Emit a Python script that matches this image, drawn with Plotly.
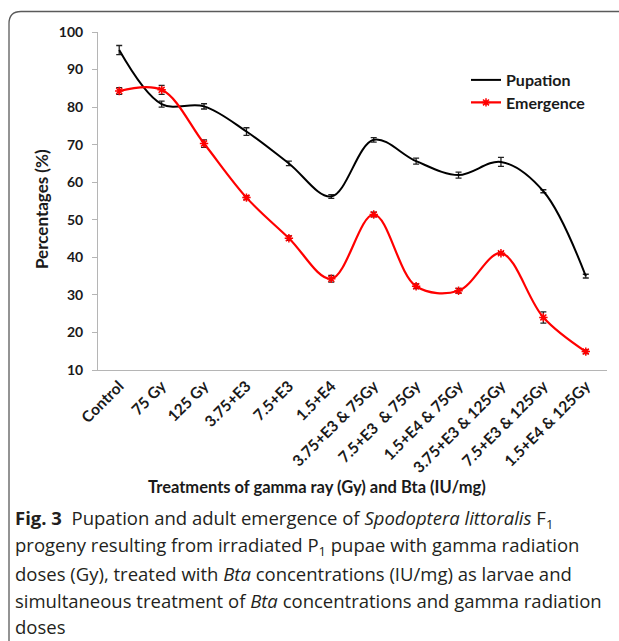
import plotly.graph_objects as go

W, H = 619, 641

categories = ["Control", "75 Gy", "125 Gy", "3.75+E3", "7.5+E3", "1.5+E4",
              "3.75+E3 & 75Gy", "7.5+E3  & 75Gy", "1.5+E4 & 75Gy",
              "3.75+E3 & 125Gy", "7.5+E3 & 125Gy", "1.5+E4 & 125Gy"]
pupation = [95.2, 80.8, 80.2, 73.5, 65.0, 56.2, 71.3, 65.6, 61.9, 65.4, 57.6, 35.0]
pupation_err = [1.2, 0.8, 0.7, 1.0, 0.6, 0.5, 0.6, 0.8, 0.8, 1.2, 0.4, 0.5]
emergence = [84.3, 84.6, 70.3, 55.9, 45.1, 34.3, 51.4, 32.3, 31.1, 41.1, 24.0, 14.9]
emergence_err = [0.9, 1.2, 1.0, 0.5, 0.6, 0.9, 0.6, 0.6, 0.6, 0.4, 1.5, 0.5]
y_ticks = [10, 20, 30, 40, 50, 60, 70, 80, 90, 100]

caption_lines = [
    "<b>Fig. 3</b>  Pupation and adult emergence of <i>Spodoptera littoralis</i> F<sub>1</sub>",
    "progeny resulting from irradiated P<sub>1</sub> pupae with gamma radiation",
    "doses (Gy), treated with <i>Bta</i> concentrations (IU/mg) as larvae and",
    "simultaneous treatment of <i>Bta</i> concentrations and gamma radiation",
    "doses",
]
caption_y_px = [519, 546, 573, 600, 626]

def px_x(p):
    return p / W

def px_y(p):
    return 1 - p / H

CHART_FONT = "Lato"
TEXT = "#1a1a1a"
AXIS = "#b5b5b5"

fig = go.Figure()
fig.add_trace(go.Scatter(
    x=categories, y=pupation, name="Pupation", mode="lines",
    line=dict(color="black", width=2, shape="spline", smoothing=1),
    error_y=dict(type="data", array=pupation_err, color="#222222", thickness=1.3, width=3),
    legend="legend",
))
fig.add_trace(go.Scatter(
    x=categories, y=emergence, name="Emergence", mode="lines+markers",
    line=dict(color="#ff0000", width=2.2, shape="spline", smoothing=1),
    marker=dict(symbol="asterisk-open", size=7, color="#ff0000",
                line=dict(color="#ff0000", width=1.5)),
    error_y=dict(type="data", array=emergence_err, color="#222222", thickness=1.3, width=3),
    legend="legend2",
))

x0, x1 = 98, 607
y_top, y_bot = 32, 370

fig.update_layout(
    width=W, height=H,
    margin=dict(l=0, r=0, t=0, b=0),
    paper_bgcolor="white", plot_bgcolor="white",
    font=dict(family=CHART_FONT, color=TEXT),
    xaxis=dict(
        domain=[px_x(x0), px_x(x1)], range=[-0.5, 11.5],
        showline=True, linecolor=AXIS, linewidth=1, ticks="",
        showgrid=False, zeroline=False, tickangle=-45, automargin=False,
        tickfont=dict(family=CHART_FONT, size=15.5, weight="bold", color=TEXT),
    ),
    yaxis=dict(
        domain=[px_y(y_bot), px_y(y_top)], range=[10, 100],
        tickvals=y_ticks, showline=True, linecolor=AXIS, linewidth=1,
        ticks="outside", ticklen=5, tickcolor=AXIS, ticklabelstandoff=6,
        showgrid=False, zeroline=False, automargin=False,
        tickfont=dict(family=CHART_FONT, size=14, weight="bold", color=TEXT),
    ),
    legend=dict(x=px_x(466), y=px_y(80), xanchor="left", yanchor="middle",
                bgcolor="rgba(0,0,0,0)", borderwidth=0,
                font=dict(family=CHART_FONT, size=16, weight="bold", color=TEXT)),
    legend2=dict(x=px_x(466), y=px_y(102.5), xanchor="left", yanchor="middle",
                 bgcolor="rgba(0,0,0,0)", borderwidth=0,
                 font=dict(family=CHART_FONT, size=16, weight="bold", color=TEXT)),
    showlegend=True,
)

annotations = [
    dict(text="<b>Percentages (%)</b>", x=px_x(42), y=px_y(209), xref="paper", yref="paper",
         textangle=-90, showarrow=False, xanchor="center", yanchor="middle",
         font=dict(family=CHART_FONT, size=17, color=TEXT)),
    dict(text="<b>Treatments of gamma ray (Gy) and Bta (IU/mg)</b>", x=px_x(317), y=px_y(487),
         xref="paper", yref="paper", showarrow=False, xanchor="center", yanchor="middle",
         font=dict(family=CHART_FONT, size=16.5, color=TEXT)),
]
for line, ypx in zip(caption_lines, caption_y_px):
    annotations.append(dict(
        text=line, x=px_x(13), y=px_y(ypx), xref="paper", yref="paper",
        showarrow=False, xanchor="left", yanchor="middle", align="left",
        font=dict(family="Open Sans", size=18.5, color="#231f20")))
fig.update_layout(annotations=annotations)

# rounded frame (top-left corner), open to the right and bottom
r = 12
lx, ty = 9, 11.5
path = (f"M {px_x(lx)},{px_y(H + 5)} L {px_x(lx)},{px_y(ty + r)} "
        f"Q {px_x(lx)},{px_y(ty)} {px_x(lx + r)},{px_y(ty)} L {px_x(W + 5)},{px_y(ty)}")
fig.add_shape(type="path", path=path, xref="paper", yref="paper",
              line=dict(color="#5a5a5a", width=1.3))

fig.write_html("out.html", config={"displayModeBar": False},
               post_script="document.body.style.margin='0px';")
